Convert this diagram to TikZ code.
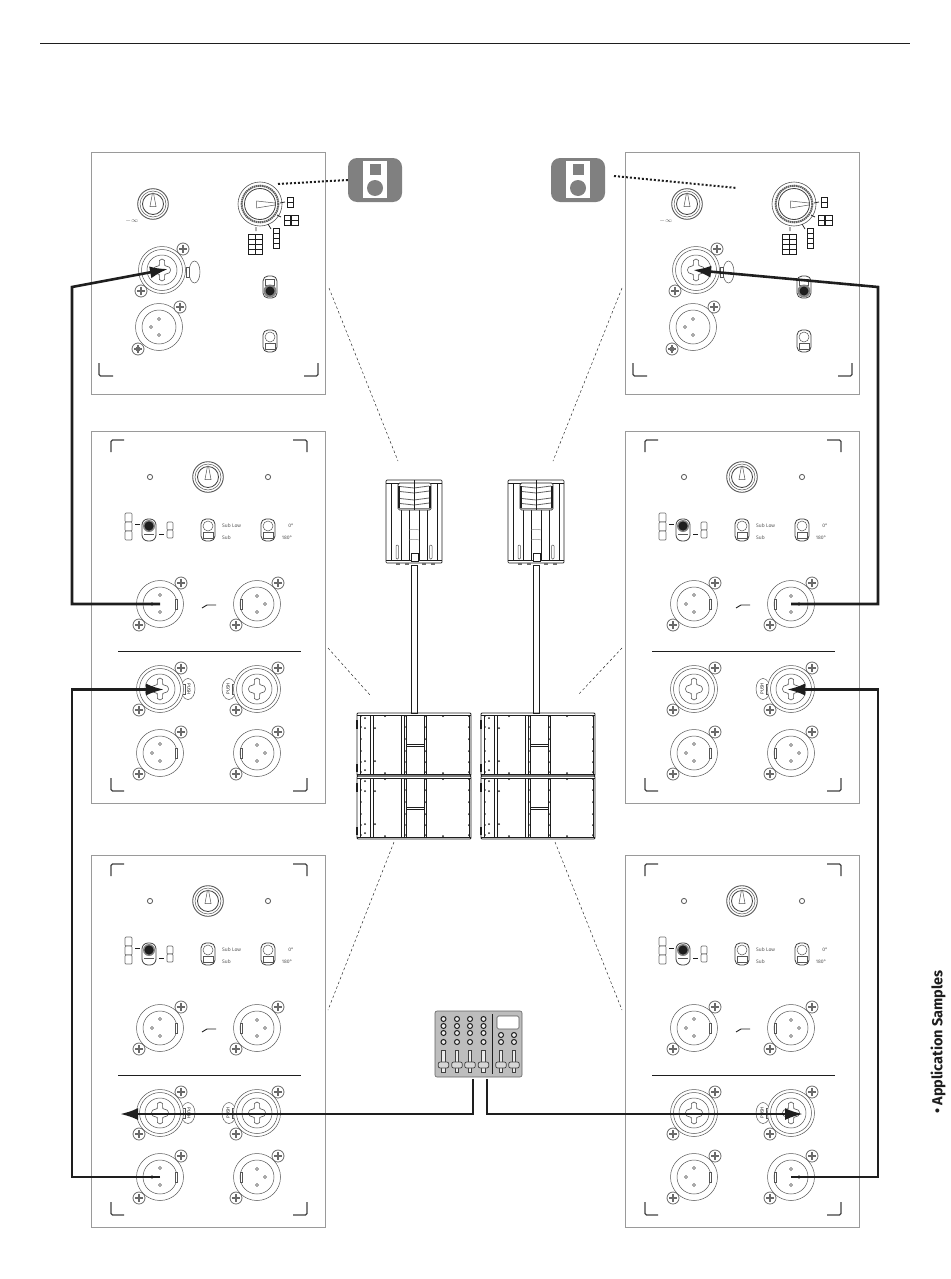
\documentclass[tikz,border=0pt]{standalone}
\usepackage{fontspec}
\setmainfont{Fira Sans}
\usetikzlibrary{arrows.meta,calc}
\definecolor{Ink}{HTML}{1E1E1E}
\definecolor{FrameGrey}{HTML}{9A9A9A}
\definecolor{IconGrey}{HTML}{808080}
\definecolor{MixerGrey}{HTML}{BDBDBD}
\definecolor{ScrewGrey}{HTML}{6A6A6A}
\tikzset{
  panelframe/.style={draw=FrameGrey,line width=.9pt},
  corner/.style={draw=Ink!85,line width=1.1pt,rounded corners=1.5pt},
  part/.style={draw=Ink!75,line width=.5pt,fill=white},
  partbold/.style={draw=Ink!85,line width=.8pt,fill=white},
  legendcell/.style={draw=Ink,line width=.9pt,fill=white},
  tick/.style={draw=Ink,line width=.7pt},
  cable/.style={draw=Ink,line width=2.6pt,line join=miter},
  cablearrow/.style={cable,-{Latex[length=18pt,width=12pt]}},
  leader/.style={draw=Ink,line width=.45pt,dash pattern=on 2.6pt off 2.4pt},
  dotline/.style={draw=Ink,line width=2pt,dash pattern=on 2pt off 2pt},
  iconbox/.style={fill=IconGrey,rounded corners=9pt,minimum width=54pt,minimum height=44pt,inner sep=0pt},
  paneltext/.style={font=\fontsize{5}{6}\selectfont,text=Ink!75,inner sep=0pt},
  outline/.style={draw=Ink,line width=.7pt},
  screw/.pic={
    \draw[draw=ScrewGrey,line width=.8pt,fill=white] (0,0) circle (6);
    \draw[draw=ScrewGrey,line width=1.4pt] (-3.6,0)--(3.6,0) (0,-3.6)--(0,3.6);
  },
  xlrbody/.pic={
    \draw[part] (0,0) circle (23.5);
    \draw[part] (0,0) circle (17);
    \pic at (21,-21) {screw};
  },
  xlrleft/.pic={
    \pic {xlrbody};
    \pic at (-21,21) {screw};
    \foreach \px/\py in {0/-9,-8/0,0/8} \draw[part] (\px,\py) circle (1.5);
    \draw[part] (15,-5) rectangle (17,5);
  },
  xlrright/.pic={
    \pic {xlrbody};
    \pic at (-21,21) {screw};
    \foreach \px/\py in {0/-8,8/0,0/8} \draw[part] (\px,\py) circle (1.5);
    \draw[part] (-17,-5) rectangle (-15,5);
  },
  combo/.pic={
    \draw[part] (0,0) circle (23.5);
    \draw[part] (0,0) circle (20.5);
    \draw[part] (0,0) circle (15);
    \draw[part,line width=.6pt] plot[smooth cycle,tension=.45] coordinates {(0,-11)(2.6,-9.5)(2.8,-4.5)(7,-3)(8.5,0)(7,3)(2.8,4.5)(2.6,9.5)(0,11)(-2.6,9.5)(-2.8,4.5)(-7,3)(-8.5,0)(-7,-3)(-2.8,-4.5)(-2.6,-9.5)};
    \pic at (21,-21) {screw};
    \pic at (-21,21) {screw};
  },
  pushright/.pic={
    \draw[part] (28,0) ellipse (7 and 10.5);
    \draw[part,line width=.8pt] (22,-5) rectangle (25,5);
    \node[paneltext,font=\fontsize{4.5}{5}\selectfont,text=Ink,rotate=-90] (-push) at (29,0) {PUSH};
  },
  pushleft/.pic={
    \draw[part] (-28,0) ellipse (7 and 10.5);
    \draw[part,line width=.8pt] (-25,-5) rectangle (-22,5);
    \node[paneltext,font=\fontsize{4.5}{5}\selectfont,text=Ink,rotate=90] (-push) at (-29,0) {PUSH};
  },
  smallknob/.pic={
    \draw[part,line width=.9pt] (0,0) circle (15.3);
    \draw[part] (0,0) circle (13);
    \draw[partbold] (0,0) circle (10.5);
    \draw[part] (-3,2.5)--(-.5,-11)--(.5,-11)--(3,2.5)--cycle;
  },
  toggledark/.pic={
    \draw[partbold,rounded corners=5pt] (-7,-11) rectangle (7,11);
    \draw[part] (-4.5,-8) rectangle (4.5,-2);
    \fill[Ink!55] (0,4) circle (6.5);
    \fill[Ink] (0,4) circle (4.5);
  },
  toggleup/.pic={
    \draw[partbold,rounded corners=5pt] (-7,-11) rectangle (7,11);
    \draw[part] (0,-4) circle (5);
    \draw[part] (-5,2) rectangle (5,8);
  },
  togglethree/.pic={
    \draw[partbold,rounded corners=6pt] (-7,-11) rectangle (7,11);
    \fill[Ink!55] (0,-4) circle (6);
    \fill[Ink] (0,-4) circle (4.6);
    \draw[part] (-5,4) -- (5,4);
  },
  toppanel/.pic={
    \draw[panelframe] (91,152) rectangle (325,394);
    \draw[corner] (99,363)--(99,376)--(113,376);
    \draw[corner] (304,376)--(318,376)--(318,363);
    \pic at (153,204) {smallknob};
    \node[paneltext,font=\fontsize{6}{6}\selectfont] (-inf) at (132,221) {$-\infty$};
    \draw[part] (194.5,272) ellipse (5.5 and 11);
    \pic at (162,270) {combo};
    \draw[part,line width=.8pt] (186,267) rectangle (189,277);
    \coordinate (-combo) at (162,270);
    \draw[part] (159,327) circle (23.5);
    \draw[part] (159,327) circle (17);
    \foreach \px/\py in {159/319,151/327,159/335} \draw[part] (\px,\py) circle (1.5);
    \pic at (180,307) {screw};
    \pic at (138,349) {screw};
    \fill[ScrewGrey] (138,349) circle (2.5);
    \draw[part,line width=.6pt] (260,204) circle (22);
    \draw[draw=Ink!70,line width=2pt,dash pattern=on 1.5pt off .6pt] (260,204) circle (18.3);
    \draw[partbold] (260,204) circle (15.5);
    \draw[part] (256.5,201)--(275,203)--(275,205)--(256.5,208)--cycle;
    \draw[tick] (280,203)--(285,202) (277,215)--(281,217) (268,224)--(271,229) (256,227)--(256,231);
    \foreach \cx/\cy in {287/197,287/202,284/215,284/220,291.5/215,291.5/220} \draw[legendcell] (\cx,\cy) rectangle +(6.5,5);
    \foreach \cy in {228,233,238,243} \draw[legendcell] (273,\cy) rectangle +(6,5);
    \foreach \cx in {248,255.5} \foreach \cy in {234,239.2,244.4,249.6} \draw[legendcell] (\cx,\cy) rectangle +(7,5.2);
    \pic at (270,287) {toggledark};
    \pic at (270,341) {toggleup};
  },
  inputpanel/.pic={
    \draw[panelframe] (91,431) rectangle (325,803);
    \draw[corner] (111,452)--(111,440)--(124,440);
    \draw[corner] (293,440)--(307,440)--(307,452);
    \draw[corner] (111,778)--(111,791)--(124,791);
    \draw[corner] (293,791)--(307,791)--(307,778);
    \draw[part,line width=.8pt] (150,477) circle (2.6);
    \draw[part,line width=.8pt] (268,477) circle (2.6);
    \pic at (208,477) {smallknob};
    \foreach \cy in {513,522,531} \draw[legendcell,draw=Ink!65,line width=.7pt,rounded corners=1pt] (125,\cy) rectangle +(7,9);
    \foreach \cy in {522,530} \draw[legendcell,draw=Ink!65,line width=.7pt,rounded corners=1pt] (167,\cy) rectangle +(6,8);
    \draw[tick] (135,524)--(140,524) (159,534)--(164,534);
    \pic at (149,530) {togglethree};
    \pic at (208,530) {toggleup};
    \pic at (268,530) {toggleup};
    \node[paneltext,anchor=west] (-sublow) at (222,526) {Sub Low};
    \node[paneltext,anchor=west] (-sub) at (222,538) {Sub};
    \node[paneltext] (-zero) at (291,526) {0°};
    \node[paneltext] (-oneeighty) at (287,538) {180°};
    \pic at (160,604) {xlrleft};
    \pic at (257,604) {xlrright};
    \draw[draw=Ink,line width=.9pt] (202,608)--(207,605)--(216,605);
    \draw[draw=Ink,line width=.9pt] (118,651)--(301,651);
    \pic at (160,689) {combo};
    \pic at (257,689) {combo};
    \pic at (160,753) {xlrleft};
    \pic at (257,753) {xlrright};
    \coordinate (-xlrA) at (160,604);
    \coordinate (-xlrB) at (257,604);
    \coordinate (-comboA) at (160,689);
    \coordinate (-comboB) at (257,689);
    \coordinate (-xlrC) at (160,753);
    \coordinate (-xlrD) at (257,753);
  },
  topspeaker/.pic={
    \draw[outline,rounded corners=1pt] (386,480) rectangle (442,563);
    \draw[draw=Ink,line width=.5pt] (386,483)--(442,483) (386,560)--(442,560);
    \foreach \sx in {391,401,409,419,427,437} \draw[draw=Ink,line width=.6pt] (\sx,483)--(\sx,560);
    \draw[outline,fill=white,rounded corners=1.5pt] (398,483) rectangle (431,510);
    \draw[draw=Ink,line width=1.3pt] (399,486)--(399,508) (430,486)--(430,508);
    \foreach \hy in {488,493,500,505} \draw[draw=Ink!70,line width=.8pt] (400,\hy-1.5)--(414,\hy)--(429,\hy-2);
    \draw[draw=Ink!55,line width=1.6pt] (399,508.5)--(430,508.5);
    \draw[draw=Ink,line width=.6pt] (414,480)--(414,510);
    \foreach \hy in {530,540} \draw[draw=Ink!50,line width=.5pt] (409,\hy) .. controls (412,\hy-1) and (416,\hy-1) .. (419,\hy);
    \draw[part,rounded corners=1pt] (396,545) rectangle (398.5,559);
    \draw[part,rounded corners=1pt] (429.5,545) rectangle (432,559);
    \draw[outline,fill=white] (411,553) rectangle (418,561);
    \foreach \fx in {396,405,422,431} \fill[Ink!65] (\fx,563) rectangle +(4,1.6);
  },
  subbox/.pic={
    \draw[outline,line width=.9pt,rounded corners=1pt] (357,713) rectangle (471,776);
    \draw[draw=Ink,line width=.5pt] (357,715)--(471,715) (357,774)--(471,774);
    \foreach \sx in {360,370,373,401,404,406,424,426,469} \draw[draw=Ink,line width=.7pt] (\sx,715)--(\sx,774);
    \draw[draw=Ink,line width=.7pt] (406,744)--(424,744) (406,746.5)--(424,746.5);
    \foreach \dy in {716,727,739,751,762,772} {
      \fill[Ink] (361,\dy) circle (.9);
      \fill[Ink] (425,\dy) circle (1);
      \fill[Ink] (469,\dy) circle (1);
      \fill[Ink] (405,\dy) circle (.9);
    }
    \foreach \dx/\dy in {365/718,365/728,375/728,365/761,375/761,365/770,385/716,385/773,443/716,443/773} \fill[Ink] (\dx,\dy) circle (1);
    \draw[draw=Ink,line width=1.6pt] (357,720)--(357,729) (357,764)--(357,772);
  }
}
\begin{document}
\begin{tikzpicture}[x=1pt,y=-1pt]
  \useasboundingbox (0,0) rectangle (950,1279);
  \draw[draw=Ink,line width=.8pt] (40,43)--(910,43);

  \pic (tl) at (0,0) {toppanel};
  \pic (tr) at (534,0) {toppanel};

  \pic at (160,689) {pushright};
  \pic at (257,689) {pushleft};
  \pic at (791,689) {pushleft};
  \pic at (160,1113) {pushright};
  \pic at (257,1113) {pushleft};
  \pic at (791,1113) {pushleft};
  \pic (ml) at (0,0) {inputpanel};
  \pic (mr) at (534,0) {inputpanel};
  \pic (bl) at (0,424) {inputpanel};
  \pic (br) at (534,424) {inputpanel};

  \node[iconbox] (iconL) at (375,180) {};
  \node[iconbox] (iconR) at (578,180) {};
  \foreach \ic in {iconL,iconR} {
    \fill[white] ($(\ic)+(-12,-19)$) rectangle ($(\ic)+(12,18)$);
    \fill[IconGrey] ($(\ic)+(-5.5,-16)$) rectangle ($(\ic)+(6,-5)$);
    \fill[IconGrey] ($(\ic)+(0,8)$) circle (8);
  }
  \coordinate (dotL) at (278,184);
  \coordinate (dotRa) at (614,176);
  \coordinate (dotRb) at (737,188);
  \draw[dotline] (dotL)--(iconL.west);
  \draw[dotline] (dotRa)--(dotRb);

  \draw[leader] (329,288)--(398,461);
  \draw[leader] (622,288)--(553,461);
  \draw[leader] (328,648)--(370,695);
  \draw[leader] (622,648)--(578,695);
  \draw[leader] (394,842)--(328,1010);
  \draw[leader] (555,842)--(622,1010);

  \pic at (0,0) {topspeaker};
  \pic at (122,0) {topspeaker};
  \foreach \ox in {0,122} \draw[outline,line width=.9pt] (411.5+\ox,565) rectangle (417.5+\ox,713);
  \foreach \ox/\oy in {0/0,0/63,124/0,124/63} \pic at (\ox,\oy) {subbox};

  \node[fill=MixerGrey,draw=Ink!70,line width=.6pt,rounded corners=2pt,minimum width=87pt,minimum height=66pt,inner sep=0pt] (mixer) at (478.5,1044) {};
  \foreach \kx in {443.5,457,470,483.5} \foreach \ky in {1019,1026,1033,1042} \draw[draw=Ink,line width=1pt,fill=MixerGrey!30] (\kx,\ky) circle (2.5);
  \foreach \kx in {501,514} \foreach \ky in {1035,1042} \draw[draw=Ink,line width=1pt,fill=MixerGrey!30] (\kx,\ky) circle (2.5);
  \foreach \kx in {443.5,457,470,483.5,501,514} {
    \draw[draw=Ink!85,line width=.7pt,fill=MixerGrey!30] (\kx-1.8,1050) rectangle (\kx+1.8,1072);
    \draw[draw=Ink!85,line width=.7pt,fill=MixerGrey!60,rounded corners=2pt] (\kx-5.3,1062) rectangle (\kx+5.3,1068);
  }
  \draw[draw=Ink,line width=.8pt] (492.7,1014)--(492.7,1074);
  \draw[draw=Ink!75,line width=.6pt,fill=white,rounded corners=1.5pt] (497,1016) rectangle (519,1029);

  \coordinate (bendTL) at (72,287);
  \coordinate (bendTR) at (878,287);
  \coordinate (bendML) at (72,689.5);
  \coordinate (bendMR) at (878,689.5);
  \coordinate (tipTL) at (168,269);
  \coordinate (tipTR) at (693,270);
  \coordinate (tipML) at (164,689.5);
  \coordinate (tipMR) at (787,689.5);
  \coordinate (outL) at (473,1079);
  \coordinate (outR) at (487,1079);
  \coordinate (tipBL) at (120,1114);
  \coordinate (tipBR) at (803,1114);

  \draw[cablearrow] (ml-xlrA) -| (bendTL) -- (tipTL);
  \draw[cablearrow] (mr-xlrB) -| (bendTR) -- (tipTR);
  \draw[cablearrow] (bl-xlrC) -| (bendML) -- (tipML);
  \draw[cablearrow] (br-xlrD) -| (bendMR) -- (tipMR);
  \draw[cablearrow] (outL) |- (tipBL);
  \draw[cablearrow] (outR) |- (tipBR);

  \node[rotate=90,font=\fontsize{14.5}{16}\selectfont\bfseries,text=Ink,inner sep=0pt] (section) at (938,1042) {• Application Samples};
\end{tikzpicture}
\end{document}
